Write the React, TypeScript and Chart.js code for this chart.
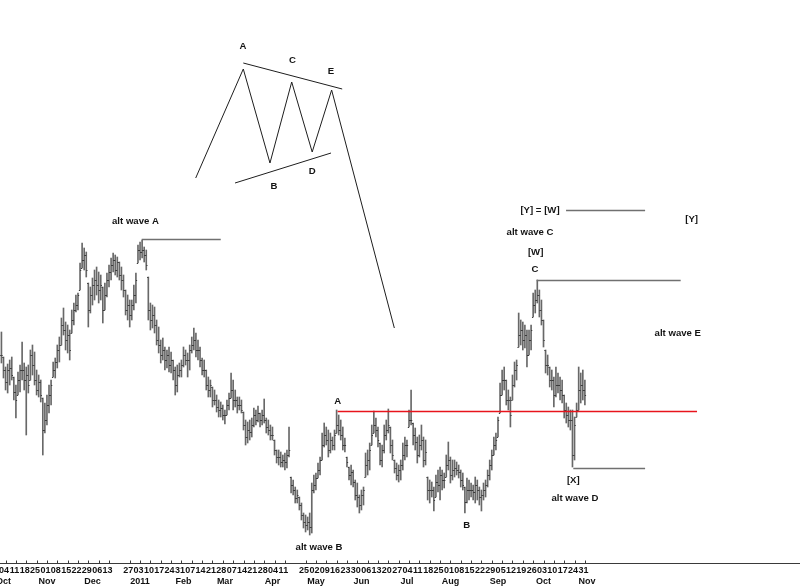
import React, { useEffect, useRef } from "react";
import { Chart, registerables } from "chart.js";

Chart.register(...registerables);

// ---------- calendar ----------
const firstTradingDay = "2010-09-30";

// weekly tick labels (Mondays) shown on the axis
const weekLabelDates = [
  "2010-10-04", "2010-10-11", "2010-10-18", "2010-10-25", "2010-11-01", "2010-11-08",
  "2010-11-15", "2010-11-22", "2010-11-29", "2010-12-06", "2010-12-13", "2010-12-27",
  "2011-01-03", "2011-01-10", "2011-01-17", "2011-01-24", "2011-01-31", "2011-02-07",
  "2011-02-14", "2011-02-21", "2011-02-28", "2011-03-07", "2011-03-14", "2011-03-21",
  "2011-03-28", "2011-04-04", "2011-04-11", "2011-04-25", "2011-05-02", "2011-05-09",
  "2011-05-16", "2011-05-23", "2011-05-30", "2011-06-06", "2011-06-13", "2011-06-20",
  "2011-06-27", "2011-07-04", "2011-07-11", "2011-07-18", "2011-07-25", "2011-08-01",
  "2011-08-08", "2011-08-15", "2011-08-22", "2011-08-29", "2011-09-05", "2011-09-12",
  "2011-09-19", "2011-09-26", "2011-10-03", "2011-10-10", "2011-10-17", "2011-10-24",
  "2011-10-31",
];

const monthLabelDates = [
  "2010-10-01", "2010-11-01", "2010-12-01", "2011-01-03", "2011-02-01", "2011-03-01",
  "2011-04-01", "2011-05-02", "2011-06-01", "2011-07-01", "2011-08-01", "2011-09-01",
  "2011-10-03", "2011-11-01",
];
const monthLabelTexts = [
  "Oct", "Nov", "Dec", "2011", "Feb", "Mar", "Apr", "May", "Jun", "Jul", "Aug", "Sep", "Oct", "Nov",
];

// ---------- price bars (one per trading day from 2010-09-30) ----------
const highs = [
  36.8, 34.3, 33.3, 33.6, 34.0, 34.3, 32.3, 31.5, 32.8, 33.5,
  35.8, 33.7, 33.3, 33.5, 35.0, 35.5, 34.8, 33.0, 32.5, 32.0,
  30.2, 29.7, 30.5, 31.5, 32.0, 33.8, 34.2, 35.5, 36.3, 38.2,
  39.2, 37.8, 37.5, 37.0, 39.0, 39.7, 40.5, 40.7, 43.7, 45.7,
  45.2, 44.8, 41.7, 41.3, 42.2, 43.0, 43.3, 42.8, 42.5, 41.3,
  41.7, 42.7, 43.5, 44.2, 44.7, 44.5, 44.3, 43.8, 43.3, 42.5,
  41.0, 40.5, 40.0, 40.0, 41.5, 42.7, 45.5, 45.8, 46.0, 45.3,
  45.0, 42.3, 39.7, 39.5, 39.3, 38.0, 37.3, 36.0, 36.2, 35.3,
  35.0, 35.3, 34.8, 34.0, 33.3, 33.5, 33.7, 34.0, 35.3, 35.0,
  34.7, 35.5, 36.3, 37.2, 36.7, 36.0, 35.3, 34.2, 34.0, 33.0,
  32.3, 32.0, 31.3, 31.0, 30.5, 30.0, 29.8, 29.5, 29.0, 30.0,
  30.7, 32.7, 32.0, 31.0, 30.3, 30.3, 30.0, 28.8, 28.0, 27.8,
  28.0, 28.2, 29.2, 29.0, 29.4, 28.7, 29.0, 30.1, 28.2, 28.0,
  27.5, 27.3, 26.0, 25.0, 25.0, 24.8, 24.5, 24.7, 25.0, 27.3,
  22.3, 22.0, 21.3, 21.0, 20.3, 19.7, 18.7, 18.5, 18.3, 18.7,
  21.7, 22.5, 22.7, 23.7, 24.3, 26.7, 27.7, 27.3, 27.0, 26.7,
  26.3, 27.0, 29.0, 28.5, 28.0, 27.3, 26.2, 24.3, 23.3, 23.5,
  23.0, 22.0, 21.7, 20.5, 21.0, 21.3, 24.7, 25.0, 25.7, 27.5,
  28.9, 28.2, 27.3, 25.7, 25.5, 27.5, 28.0, 29.1, 27.3, 26.0,
  24.0, 23.7, 23.5, 24.0, 25.7, 26.3, 26.0, 29.0, 31.0, 27.7,
  27.2, 26.3, 26.5, 27.5, 26.3, 26.0, 22.3, 22.0, 21.8, 21.3,
  22.5, 23.0, 23.3, 23.0, 22.7, 24.5, 25.8, 24.3, 24.0, 24.0,
  23.8, 23.5, 23.0, 22.7, 21.3, 22.2, 22.0, 21.7, 21.5, 22.3,
  22.0, 21.3, 21.0, 21.7, 22.0, 23.0, 24.0, 25.0, 26.3, 26.7,
  28.3, 31.7, 33.0, 33.3, 32.0, 31.0, 30.3, 32.5, 33.8, 34.0,
  38.7, 38.0, 37.8, 37.5, 37.0, 37.0, 37.5, 40.7, 41.0, 42.0,
  41.0, 40.0, 38.0, 35.0, 34.5, 33.3, 33.0, 32.3, 33.3, 32.7,
  32.3, 32.0, 30.5, 29.7, 29.3, 29.0, 29.0, 28.3, 29.7, 33.3,
  32.7, 33.0, 32.0,
];

const lows = [
  33.7, 32.2, 31.0, 30.7, 31.5, 32.0, 30.0, 28.2, 30.5, 30.8,
  32.0, 31.0, 26.5, 30.7, 32.0, 32.5, 31.5, 30.5, 30.3, 29.8,
  24.5, 26.7, 27.5, 28.7, 29.5, 32.3, 32.2, 33.2, 33.8, 35.5,
  36.5, 35.0, 34.7, 34.0, 36.7, 37.5, 38.8, 39.0, 41.0, 43.2,
  43.0, 42.3, 37.3, 38.7, 39.5, 40.0, 40.5, 39.7, 40.0, 37.7,
  39.0, 40.3, 41.3, 42.0, 42.8, 42.5, 42.3, 42.0, 41.0, 40.3,
  38.5, 38.0, 37.3, 38.0, 39.0, 39.7, 43.7, 44.0, 44.2, 43.8,
  43.0, 38.0, 37.0, 37.2, 36.7, 35.5, 34.7, 33.7, 34.0, 33.0,
  33.2, 32.8, 32.7, 32.0, 30.5, 30.8, 32.3, 32.3, 33.3, 33.5,
  32.3, 33.0, 34.7, 35.0, 34.3, 34.0, 33.3, 32.5, 32.3, 31.0,
  30.3, 30.3, 29.3, 29.5, 28.8, 28.3, 28.3, 28.0, 27.6, 28.5,
  29.0, 30.2, 29.0, 29.3, 28.7, 29.0, 28.7, 27.0, 25.5, 25.7,
  26.0, 26.3, 27.3, 27.5, 27.8, 27.3, 27.5, 27.7, 26.7, 26.5,
  26.0, 26.0, 24.5, 23.7, 23.5, 23.3, 23.3, 23.0, 23.2, 24.3,
  20.7, 20.5, 19.7, 19.7, 19.0, 18.0, 17.2, 16.8, 17.0, 16.5,
  16.7, 20.7, 21.0, 22.2, 22.5, 24.0, 25.3, 25.5, 24.3, 24.7,
  25.0, 25.0, 26.7, 26.5, 26.0, 25.0, 24.8, 23.3, 22.0, 21.5,
  21.3, 20.0, 19.3, 18.7, 19.0, 19.5, 22.3, 22.5, 23.0, 25.5,
  26.7, 26.3, 25.3, 23.5, 23.3, 24.7, 26.0, 26.7, 24.7, 24.0,
  22.7, 22.0, 21.8, 22.0, 23.0, 24.0, 24.3, 27.3, 27.5, 25.5,
  25.0, 23.7, 24.3, 25.0, 23.3, 23.5, 20.0, 19.7, 20.3, 18.9,
  20.3, 20.8, 20.0, 21.0, 21.2, 22.3, 23.0, 21.7, 22.0, 22.3,
  22.5, 22.2, 21.3, 21.0, 18.7, 19.7, 20.0, 20.3, 20.0, 19.7,
  20.0, 19.5, 18.9, 20.0, 20.3, 21.3, 22.0, 23.0, 24.5, 25.0,
  26.3, 28.7, 30.5, 31.0, 29.5, 29.0, 27.3, 30.0, 31.3, 32.0,
  35.3, 35.5, 35.0, 35.2, 33.3, 34.5, 35.0, 38.3, 38.7, 39.7,
  38.3, 37.5, 35.3, 32.7, 32.5, 31.3, 31.0, 29.3, 30.3, 30.7,
  30.0, 29.7, 28.2, 27.7, 27.3, 27.0, 23.3, 24.0, 28.3, 29.0,
  29.7, 30.0, 29.5,
];

const closes = [
  34.5, 33.0, 31.8, 33.0, 33.2, 32.5, 30.8, 30.0, 32.0, 33.0,
  33.0, 32.0, 32.5, 31.5, 34.5, 33.5, 32.0, 31.0, 31.8, 30.5,
  27.0, 28.0, 29.5, 30.5, 31.5, 33.0, 33.8, 35.0, 35.5, 37.5,
  37.0, 36.0, 36.5, 35.0, 38.0, 39.0, 39.5, 40.5, 43.0, 44.0,
  44.5, 43.0, 39.0, 40.5, 41.5, 42.0, 41.5, 41.0, 41.5, 39.0,
  40.5, 42.0, 42.8, 43.5, 44.0, 43.0, 43.8, 42.5, 42.0, 41.0,
  39.0, 39.5, 38.5, 39.5, 40.5, 42.0, 45.0, 44.8, 45.0, 44.5,
  43.5, 39.0, 38.0, 38.5, 37.5, 36.0, 35.5, 34.5, 35.0, 34.0,
  34.5, 33.5, 34.0, 33.0, 31.5, 32.5, 33.0, 33.5, 34.5, 34.0,
  34.0, 35.0, 35.5, 36.0, 35.0, 35.0, 34.0, 33.0, 33.0, 31.5,
  31.0, 31.5, 30.0, 30.0, 29.3, 29.0, 29.2, 28.5, 28.5, 29.5,
  30.2, 31.0, 30.0, 30.0, 29.5, 29.5, 29.0, 27.5, 26.3, 27.0,
  26.8, 27.5, 28.5, 28.0, 28.7, 28.0, 28.5, 28.0, 27.3, 27.0,
  26.5, 26.5, 25.0, 24.3, 24.3, 23.8, 24.0, 23.8, 24.5, 25.0,
  21.5, 21.0, 20.2, 20.5, 19.5, 18.5, 17.8, 17.5, 17.8, 17.3,
  21.0, 21.5, 22.2, 23.0, 24.0, 25.5, 26.5, 26.0, 25.0, 26.0,
  25.5, 26.5, 27.5, 27.0, 26.5, 25.5, 25.5, 23.8, 22.5, 22.8,
  21.8, 20.5, 20.3, 19.5, 20.5, 21.0, 23.5, 24.0, 25.0, 26.5,
  27.5, 27.0, 26.0, 24.0, 25.0, 26.5, 27.0, 27.5, 25.5, 24.5,
  23.2, 22.5, 23.0, 23.5, 24.5, 25.5, 25.5, 28.0, 28.0, 26.5,
  25.8, 24.5, 25.5, 26.0, 24.0, 24.8, 21.0, 21.0, 21.0, 20.0,
  21.8, 21.5, 22.5, 22.0, 22.0, 23.5, 24.0, 22.5, 23.0, 23.2,
  23.0, 22.8, 22.0, 21.5, 19.8, 21.0, 21.0, 21.0, 20.8, 21.5,
  21.0, 20.3, 20.5, 21.0, 21.5, 22.5, 23.5, 24.5, 25.5, 26.0,
  28.0, 30.5, 32.0, 32.0, 30.0, 30.0, 28.5, 31.5, 33.0, 33.5,
  36.5, 37.0, 36.0, 36.5, 34.5, 36.0, 37.0, 39.5, 40.0, 40.5,
  39.0, 38.0, 36.0, 33.5, 33.5, 32.0, 32.0, 30.5, 31.5, 31.5,
  31.0, 30.5, 29.0, 28.5, 28.0, 28.0, 24.5, 27.5, 29.0, 31.0,
  31.5, 31.0, 30.5,
];

// ---------- wave annotations (x in trading-day index, y in price) ----------
const zigzagX = [93.9, 116.9, 129.8, 140.3, 150.2, 159.6, 189.9];
const zigzagY = [52.2, 63.1, 53.7, 61.8, 54.8, 61.0, 37.2];
const upperTrendX = [116.9, 164.7];
const upperTrendY = [63.7, 61.1];
const lowerTrendX = [112.9, 159.3];
const lowerTrendY = [51.7, 54.7];

const levelNames = ["altA", "redA", "waveC", "yEqualsW", "x"];
const levelStartX = [67.8, 162.5, 258.7, 272.9, 276.4];
const levelEndX = [106.0, 336.2, 328.3, 311.1, 311.1];
const levelValue = [46.1, 28.9, 42.0, 49.0, 23.2];

const noteTexts = [
  "A", "B", "C", "D", "E",
  "alt wave A", "A", "alt wave B", "B",
  "alt wave C", "[W]", "C", "[Y] = [W]", "[Y]",
  "alt wave E", "[X]", "alt wave D",
];
const noteX = [
  116.8, 131.7, 140.7, 150.2, 159.3,
  64.8, 162.5, 153.5, 224.9,
  255.5, 258.2, 257.9, 260.3, 333.6,
  326.9, 276.4, 277.2,
];
const noteY = [
  65.4, 51.4, 64.0, 52.9, 62.9,
  47.9, 29.9, 15.3, 17.5,
  46.8, 44.8, 43.1, 49.0, 48.1,
  36.7, 22.0, 20.2,
];

// ---------- helpers ----------
function tradingIndex(date: string): number {
  const d = new Date(firstTradingDay + "T00:00:00Z");
  const end = new Date(date + "T00:00:00Z");
  let n = 0;
  while (d < end) {
    d.setUTCDate(d.getUTCDate() + 1);
    const wd = d.getUTCDay();
    if (wd !== 0 && wd !== 6) n++;
  }
  return n;
}

function dayText(date: string): string {
  return date.slice(8, 10);
}

const opens = closes.map((c, i) => {
  const prev = i === 0 ? c : closes[i - 1];
  return Math.min(highs[i], Math.max(lows[i], prev));
});

const NOTE_FONT = "bold 9.6px 'Liberation Sans', Arial, sans-serif";
const AXIS_FONT = "bold 9px 'Liberation Sans', Arial, sans-serif";

const ohlcTicksPlugin = {
  id: "ohlcTicks",
  afterDatasetsDraw(chart: any) {
    const { ctx, scales } = chart;
    const x = scales.x;
    const y = scales.y;
    ctx.save();
    ctx.strokeStyle = "#3a3a3a";
    ctx.lineWidth = 1;
    ctx.beginPath();
    for (let i = 0; i < closes.length; i++) {
      const px = x.getPixelForValue(i);
      const yo = Math.round(y.getPixelForValue(opens[i])) + 0.5;
      const yc = Math.round(y.getPixelForValue(closes[i])) + 0.5;
      ctx.moveTo(px - 1.2, yo);
      ctx.lineTo(px, yo);
      ctx.moveTo(px, yc);
      ctx.lineTo(px + 1.2, yc);
    }
    ctx.stroke();
    ctx.restore();
  },
};

const annotationPlugin = {
  id: "waveNotes",
  afterDraw(chart: any) {
    const { ctx, scales, chartArea } = chart;
    const x = scales.x;
    const y = scales.y;
    const X = (v: number) => x.getPixelForValue(v);
    const Y = (v: number) => y.getPixelForValue(v);
    ctx.save();

    // zigzag pattern + triangle boundaries
    ctx.strokeStyle = "#1e1e1e";
    ctx.lineWidth = 1;
    ctx.beginPath();
    zigzagX.forEach((v, i) => {
      if (i === 0) ctx.moveTo(X(v), Y(zigzagY[i]));
      else ctx.lineTo(X(v), Y(zigzagY[i]));
    });
    ctx.moveTo(X(upperTrendX[0]), Y(upperTrendY[0]));
    ctx.lineTo(X(upperTrendX[1]), Y(upperTrendY[1]));
    ctx.moveTo(X(lowerTrendX[0]), Y(lowerTrendY[0]));
    ctx.lineTo(X(lowerTrendX[1]), Y(lowerTrendY[1]));
    ctx.stroke();

    // horizontal levels
    levelNames.forEach((name, i) => {
      const isRed = name === "redA";
      ctx.strokeStyle = isRed ? "#e8141c" : "#707070";
      ctx.lineWidth = isRed ? 1.6 : 1.4;
      const py = Math.round(Y(levelValue[i])) + 0.5;
      ctx.beginPath();
      ctx.moveTo(X(levelStartX[i]), py);
      ctx.lineTo(X(levelEndX[i]), py);
      ctx.stroke();
    });

    // texts
    ctx.fillStyle = "#141414";
    ctx.font = NOTE_FONT;
    ctx.textAlign = "center";
    ctx.textBaseline = "middle";
    noteTexts.forEach((t, i) => {
      ctx.fillText(t, X(noteX[i]), Y(noteY[i]));
    });

    // time axis
    const axisY = Math.round(chartArea.bottom - 23) + 0.5;
    ctx.strokeStyle = "#3a3a3a";
    ctx.lineWidth = 1;
    ctx.beginPath();
    ctx.moveTo(chartArea.left, axisY);
    ctx.lineTo(chartArea.right, axisY);
    weekLabelDates.forEach((d) => {
      const px = Math.round(X(tradingIndex(d))) + 0.5;
      ctx.moveTo(px, axisY - 3);
      ctx.lineTo(px, axisY);
    });
    ctx.stroke();

    ctx.font = AXIS_FONT;
    ctx.fillStyle = "#111";
    weekLabelDates.forEach((d) => {
      ctx.fillText(dayText(d), X(tradingIndex(d)) - 1.5, axisY + 7);
    });
    monthLabelDates.forEach((d, i) => {
      ctx.fillText(monthLabelTexts[i], X(tradingIndex(d)), axisY + 18);
    });
    ctx.restore();
  },
};

export default function App() {
  const canvasRef = useRef<HTMLCanvasElement | null>(null);

  useEffect(() => {
    const canvas = canvasRef.current;
    if (!canvas) return;
    const chart = new Chart(canvas, {
      type: "bar",
      data: {
        datasets: [
          {
            label: "price",
            data: highs.map((h, i) => ({ x: i, y: [lows[i], h] })) as any,
            backgroundColor: "#686868",
            borderWidth: 0,
            barThickness: 1,
            grouped: false,
          } as any,
        ],
      },
      options: {
        responsive: false,
        animation: false,
        layout: { padding: 0 },
        plugins: {
          legend: { display: false },
          tooltip: { enabled: false },
          title: { display: false },
        },
        scales: {
          x: {
            type: "linear",
            display: false,
            offset: false,
            min: -0.69,
            max: 385.97,
          },
          y: {
            type: "linear",
            display: false,
            min: 11.4,
            max: 70,
          },
        },
      },
      plugins: [ohlcTicksPlugin, annotationPlugin],
    });
    return () => chart.destroy();
  }, []);

  return (
    <div
      style={{
        position: "fixed",
        left: 0,
        top: 0,
        width: 800,
        height: 586,
        background: "#ffffff",
      }}
    >
      <canvas ref={canvasRef} width={800} height={586} style={{ display: "block" }} />
    </div>
  );
}
